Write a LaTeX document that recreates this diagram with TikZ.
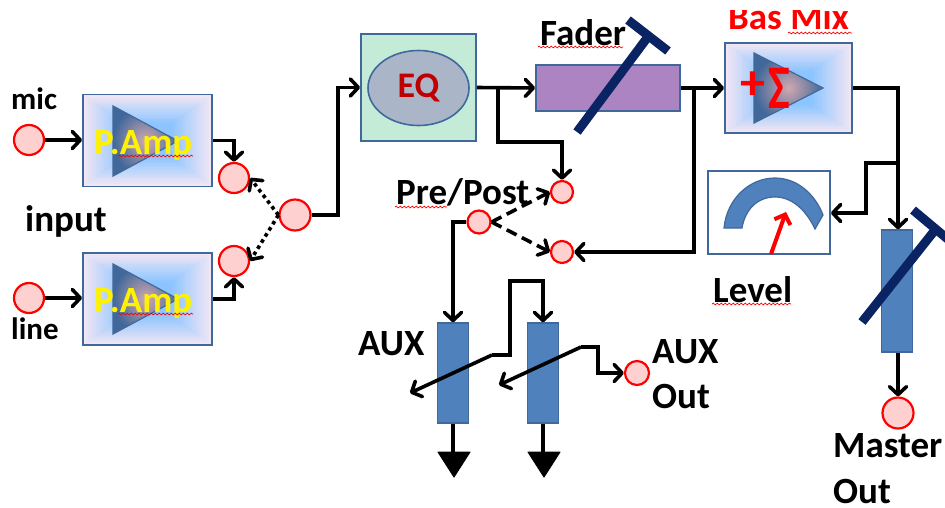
\documentclass[tikz,border=0pt]{standalone}
\usepackage{fontspec}
\setmainfont{Carlito}
\usetikzlibrary{arrows.meta,decorations.pathmorphing,calc,shapes.geometric}
\definecolor{lav}{HTML}{F0E6F4}
\definecolor{skyb}{HTML}{8CC4FF}
\definecolor{edgeb}{HTML}{41689A}
\definecolor{steel}{HTML}{4F81BD}
\definecolor{navy}{HTML}{0A2463}
\definecolor{cfill}{HTML}{FFD0D0}
\definecolor{purp}{HTML}{AC84C2}
\definecolor{mint}{HTML}{C3EBD8}
\definecolor{slate}{HTML}{AAB6C8}
\definecolor{eqred}{HTML}{C00000}
\definecolor{trimid}{HTML}{D0A8B0}
\newcommand{\gradbox}[4]{%
  \foreach \i in {0,...,15}{%
    \pgfmathsetmacro{\t}{\i/15}%
    \pgfmathsetmacro{\p}{100*\t}%
    \pgfmathsetmacro{\ax}{#1+0.31*\t*(#3-#1)}%
    \pgfmathsetmacro{\bx}{#3-0.31*\t*(#3-#1)}%
    \pgfmathsetmacro{\ay}{#2+0.31*\t*(#4-#2)}%
    \pgfmathsetmacro{\by}{#4-0.31*\t*(#4-#2)}%
    \fill[skyb!\p!lav] (\ax,\ay) rectangle (\bx,\by);%
  }%
}
\newcommand{\tri}[3]{%
  \draw[edgeb,line width=1.2pt,inner color=trimid,outer color=edgeb]
    (#1,#2-35) -- (#1,#2+35) -- (#1+#3,#2) -- cycle;%
}
\tikzset{
  x=1pt,y=-1pt,
  >={Straight Barb[length=8pt,width=17pt,round]},
  conn/.style={line width=3.6pt,line join=miter},
  port/.style={circle,draw=red,fill=cfill,line width=2.2pt,inner sep=0pt,minimum size=#1},
  blockb/.style={rectangle,draw=edgeb,line width=1.8pt,inner sep=0pt},
  slider/.style={rectangle,draw=edgeb,fill=steel,line width=1.5pt,inner sep=0pt,minimum width=31pt},
  knob/.style={navy,line width=9pt},
  lab/.style={inner sep=0pt,anchor=base west,font=\fontsize{#1}{#1}\selectfont\bfseries},
  squig/.style={red,line width=.7pt,decorate,decoration={snake,amplitude=.9pt,segment length=4pt}},
  ground/.style={fill=black,draw=black,line width=1pt,line join=round},
}
\begin{document}
\begin{tikzpicture}
\useasboundingbox (0,0) rectangle (945,507);
% amplifier boxes
\gradbox{83}{95}{212}{186}
\gradbox{83}{253}{212}{345}
\gradbox{725}{43}{852}{133}
\tri{113}{141}{65}
\tri{113}{299}{65}
\tri{754}{88}{69}
\node[blockb,minimum width=129pt,minimum height=92pt] (amp1) at (147.5,140.5) {};
\node[blockb,minimum width=129pt,minimum height=92pt] (amp2) at (147.5,299) {};
\node[blockb,minimum width=127pt,minimum height=90pt] (mix) at (788.5,88) {};
\node[lab=37,text=yellow] (pamp1) at (94,154) {P.Amp};
\node[lab=37,text=yellow] (pamp2) at (94,312) {P.Amp};
\draw[squig] (118,156) -- (193,156);
\draw[squig] (118,314) -- (193,314);
% EQ
\node[blockb,fill=mint,minimum width=115pt,minimum height=107pt] (eqbox) at (418.5,87.5) {};
\node[ellipse,draw=edgeb,fill=slate,line width=1.6pt,minimum width=101pt,minimum height=75pt,inner sep=0pt,
      text=eqred,font=\fontsize{36}{36}\selectfont\bfseries] (eq) at (418.5,88) {EQ};
% fader
\node[blockb,fill=purp,minimum width=144pt,minimum height=46pt] (fader) at (608,88) {};
\coordinate (fa) at (577,132); \coordinate (fb) at (647,38);
\coordinate (ft1) at (628,20); \coordinate (ft2) at (668,51);
\draw[knob] (fa) -- (fb);
\draw[knob] (ft1) -- (ft2);
% ports
\node[port=30pt] (mic) at (29,140) {};
\node[port=30pt] (line) at (29,298) {};
\node[port=30pt] (a) at (234,178) {};
\node[port=30pt] (b) at (234,261) {};
\node[port=31pt] (c) at (295,215) {};
\node[port=22pt] (pre) at (562,192) {};
\node[port=22pt] (post) at (562,252) {};
\node[port=23pt] (pp) at (479,222) {};
\node[port=24pt] (auxout) at (637,373) {};
\node[port=31pt] (master) at (898,413) {};
% input connectors
\draw[conn,->] (mic) -- (amp1.west |- mic);
\draw[conn,->] (line) -- (amp2.west |- line);
\draw[conn,->] (amp1.east) -| (a.north);
\draw[conn,->] (amp2.east) -| (b.south);
\draw[line width=3.6pt,dash pattern=on 3.6pt off 3.6pt,->] (c.west) -- (a.east);
\draw[line width=3.6pt,dash pattern=on 3.6pt off 3.6pt,->] (c.west) -- (b.east);
\draw[conn,->] (c.east) -- (338,215) |- (eqbox.west);
% EQ out
\draw[conn,->] (eqbox.east) -- (fader.west);
\coordinate (br1) at (498,88);
\draw[conn,->] (br1) |- (562,142) -- (pre.north);
\draw[line width=3.6pt,dash pattern=on 11pt off 6pt,->] (pp.east) -- (pre.west);
\draw[line width=3.6pt,dash pattern=on 11pt off 6pt,->] (pp.east) -- (post.west);
% fader out
\draw[conn,->] (fader.east) -- (mix.west);
\coordinate (br2) at (694,88);
\draw[conn,->] (br2) |- (post.east);
% Mix symbols
\node[text=red,font=\fontsize{50}{50}\selectfont\bfseries,inner sep=0pt] (plus) at (753,86) {+};
\node[text=red,font=\fontsize{46}{46}\selectfont\bfseries,inner sep=0pt] (sigma) at (779,88) {\scalebox{1}[1.35]{Σ}};
\node[lab=37,text=red] (basmix) at (728,29) {Bas Mix};
\draw[squig] (788,33) -- (852,33);
\fill[white] (700,0) rectangle (880,10);
% Level meter
\node[blockb,minimum width=122pt,minimum height=83pt] (meter) at (769,212.5) {};
\draw[edgeb,fill=steel,line width=1.2pt]
  (724,228) .. controls (727,198) and (750,178) .. (775,178)
  .. controls (797,178) and (815,194) .. (823,215)
  -- (815,229) .. controls (806,210) and (792,197) .. (775,197)
  .. controls (757,197) and (745,210) .. (742,228) -- cycle;
\coordinate (needle) at (786,212);
\coordinate (nbase) at (771,254);
\draw[red,line width=4pt,-{Straight Barb[length=8pt,width=17pt]}] (nbase) -- (needle);
% Master
\coordinate (mt) at (898,88);
\node[slider,minimum height=122pt] (mfader) at (897,291) {};
\draw[knob] (862,322) -- (935,230);
\draw[knob] (913,210) -- (950,241);
\draw[conn,->] (mix.east) -- (mt) -- (mfader.north -| mt);
\coordinate (br3) at (898,163);
\draw[conn,->] (br3) -- (866,163) |- (meter.east |- 0,213);
\draw[conn,->] (mfader.south -| mt) -- (master.north);
% AUX
\node[slider,minimum height=100pt] (aux1) at (453,373) {};
\node[slider,minimum height=100pt] (aux2) at (543,373) {};
\draw[conn,->] (pp.west) -- (453,222) -- (aux1.north);
\coordinate (w1) at (510,355); \coordinate (w1b) at (492,355); \coordinate (w1t) at (410,393);
\draw[conn,->] (w1b) -- (w1t);
\draw[conn,->] (w1b) -- (w1) |- (543,281) -- (aux2.north);
\coordinate (w2) at (581,347); \coordinate (w2t) at (499,385);
\draw[conn,->] (w2) -- (w2t);
\draw[conn,->] (w2) -- (598,347) |- (auxout.west);
% grounds
\draw[conn] (aux1.south) -- (453,453);
\draw[conn] (aux2.south) -- (543,453);
\draw[ground] (438,452) -- (470,452) -- (454,477) -- cycle;
\draw[ground] (528,452) -- (560,452) -- (544,477) -- cycle;
% labels
\node[lab=31] (tmic) at (11,109) {mic};
\node[lab=31] (tline) at (11,339) {line};
\node[lab=37] (tinput) at (25,231) {input};
\node[lab=37] (tfader) at (540,45) {Fader};
\draw[squig] (538,47) -- (623,47);
\node[lab=37] (tpp) at (396,204) {Pre/Post};
\draw[squig] (395,207) -- (447,207);
\node[lab=37] (tlevel) at (713,302) {Level};
\draw[squig] (712,304) -- (791,304);
\node[lab=37] (taux) at (358,355) {AUX};
\node[lab=37] (taux2) at (652,363) {AUX};
\node[lab=37] (tout) at (652,408) {Out};
\node[lab=37] (tmaster) at (833,457) {Master};
\node[lab=37] (tout2) at (833,503) {Out};
\end{tikzpicture}
\end{document}
